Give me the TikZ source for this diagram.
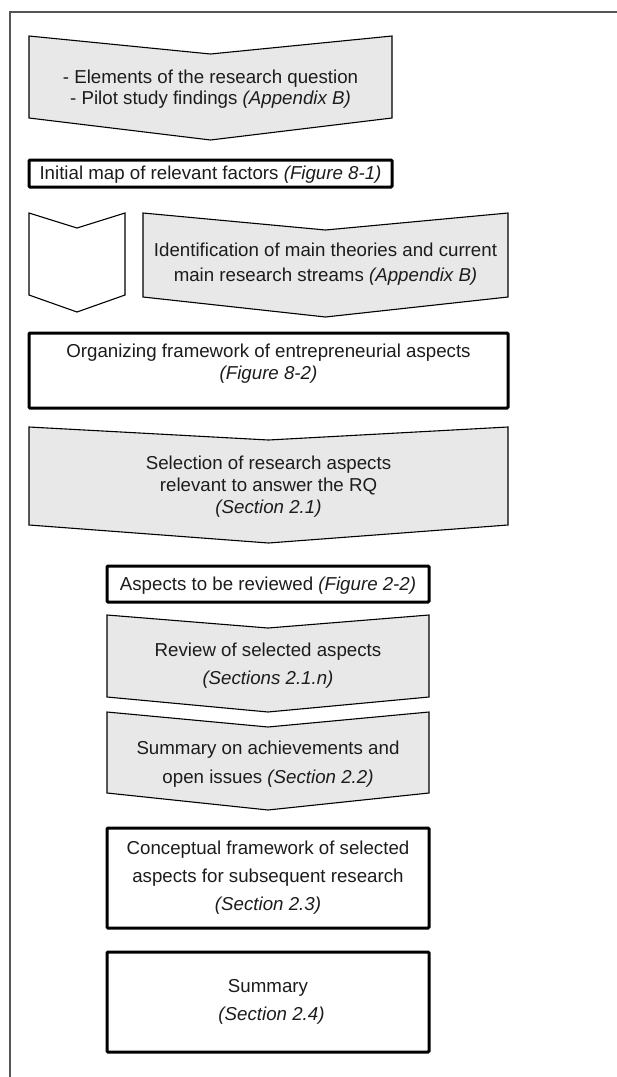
\documentclass[tikz,border=0pt]{standalone}
\usepackage{fontspec}
\setmainfont{Liberation Sans}
\definecolor{chevgray}{RGB}{232,232,232}
\definecolor{ink}{RGB}{28,28,28}
\definecolor{framegray}{RGB}{85,85,85}

% chevron outline: #1 fill, #2 left x, #3 right x, #4 top corners y,
% #5 top notch y, #6 bottom corners y, #7 bottom point y
\newcommand{\chevronpath}[7]{%
  \draw[chevline, fill=#1] (#2,#4) -- ({(#2+#3)/2},#5) -- (#3,#4)
    -- (#3,#6) -- ({(#2+#3)/2},#7) -- (#2,#6) -- cycle;}

\tikzset{
  chevline/.style={draw=black, line width=1.1pt, line join=miter},
  stepbox/.style={draw=black, fill=white, line width=3pt, rounded corners=1pt,
    inner sep=0pt},
  lbl/.style={align=center, inner sep=0pt, text=ink},
  ls21/.style={lbl, font=\fontsize{18.7}{21}\selectfont},
  ls22/.style={lbl, font=\fontsize{18.7}{22}\selectfont},
  ls25/.style={lbl, font=\fontsize{18.7}{25}\selectfont},
  ls28/.style={lbl, font=\fontsize{18.7}{28}\selectfont},
  ls29/.style={lbl, font=\fontsize{18.7}{29}\selectfont},
}

\begin{document}
\begin{tikzpicture}[x=1pt, y=-1pt]
\useasboundingbox (0,0) rectangle (617,1077);

% outer frame (left and top edges)
\draw[framegray, line width=1.2pt] (10,1077) -- (10,12);
\draw[framegray, line width=1.8pt] (9.4,12) -- (617,12);

% input chevron
\chevronpath{chevgray}{29}{392}{36}{54}{118}{140}
\node[ls21] (inputs) at (210.5,89) {- Elements of the research question\\- Pilot study findings \textit{(Appendix B)}};

% initial map
\node[stepbox, minimum width=363pt, minimum height=27pt] (mapbox) at (210.5,173.5) {};
\node[ls21] (maptext) at (210.5,175) {Initial map of relevant factors \textit{(Figure 8-1)}};

% side-by-side chevrons
\chevronpath{white}{29}{125}{213}{228}{295}{312}
\chevronpath{chevgray}{143}{508}{213}{230}{297}{317}
\node[ls25] (theories) at (325.5,264) {Identification of main theories and current\\main research streams \textit{(Appendix B)}};

% organizing framework
\node[stepbox, minimum width=479pt, minimum height=75pt] (orgbox) at (268.5,370.5) {};
\node[ls22] (orgtext) at (268.5,363.5) {Organizing framework of entrepreneurial aspects\\\textit{(Figure 8-2)}};

% selection chevron
\chevronpath{chevgray}{29}{508}{427}{440}{525}{543}
\node[ls22] (selection) at (268.5,486.5) {Selection of research aspects\\relevant to answer the RQ\\\textit{(Section 2.1)}};

% aspects to be reviewed
\node[stepbox, minimum width=322pt, minimum height=36pt] (aspbox) at (268,584) {};
\node[ls21] (asptext) at (268,586) {Aspects to be reviewed \textit{(Figure 2-2)}};

% review chevron
\chevronpath{chevgray}{107}{429}{615}{628}{697}{712}
\node[ls28] (review) at (268,665.5) {Review of selected aspects\\\textit{(Sections 2.1.n)}};

% summary on achievements chevron
\chevronpath{chevgray}{107}{429}{712}{727}{793}{810}
\node[ls29] (achieve) at (268,764) {Summary on achievements and\\open issues \textit{(Section 2.2)}};

% conceptual framework
\node[stepbox, minimum width=322pt, minimum height=100pt] (conbox) at (268,878) {};
\node[ls28] (context) at (268,878) {Conceptual framework of selected\\aspects for subsequent research\\\textit{(Section 2.3)}};

% summary
\node[stepbox, minimum width=322pt, minimum height=100pt] (sumbox) at (268,1002) {};
\node[ls28] (sumtext) at (268,1002) {Summary\\\hspace*{7pt}\textit{(Section 2.4)}};
\end{tikzpicture}
\end{document}
